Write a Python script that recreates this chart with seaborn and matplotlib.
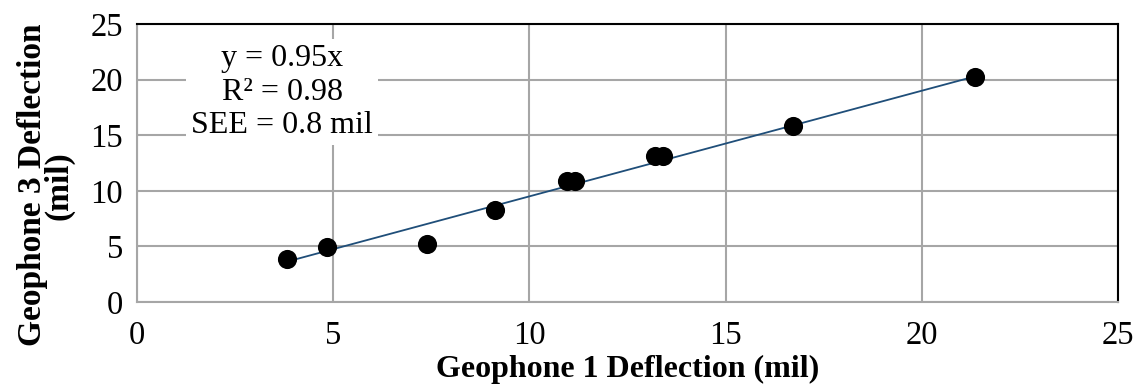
import matplotlib
matplotlib.use("Agg")
import matplotlib.pyplot as plt
import seaborn as sns
import numpy as np
import pandas as pd

geo1 = [3.82, 4.84, 7.39, 9.12, 10.96, 11.16, 13.2, 13.4, 16.72, 21.36]
geo3 = [3.87, 4.95, 5.22, 8.27, 10.88, 10.9, 13.1, 13.12, 15.8, 20.2]
slope = 0.95
x_ticks = [0, 5, 10, 15, 20, 25]
y_ticks = [0, 5, 10, 15, 20, 25]

sns.set_theme(style="white")
plt.rcParams['font.family'] = ['Liberation Serif', 'DejaVu Serif']
plt.rcParams['text.color'] = 'black'
plt.rcParams['axes.labelcolor'] = 'black'

df = pd.DataFrame({"g1": geo1, "g3": geo3})

fig = plt.figure(figsize=(11.38, 3.85), dpi=100)
ax = fig.add_axes([137/1138, 1 - 302/385, (1118-137)/1138, (302-24)/385])

grid_c = "#A6A6A6"
ax.set_xlim(0, 25)
ax.set_ylim(0, 25)
ax.set_xticks(x_ticks)
ax.set_yticks(y_ticks)
ax.grid(True, color=grid_c, linewidth=1.5)
ax.set_axisbelow(True)

xl = np.array([min(geo1), max(geo1)])
sns.lineplot(x=xl, y=slope * xl, ax=ax, color="#1F4E79", linewidth=1.3, zorder=3)
sns.scatterplot(data=df, x="g1", y="g3", ax=ax, color="black", s=190,
                edgecolor="black", linewidth=0, zorder=4)

for s in ["left", "bottom"]:
    ax.spines[s].set_color(grid_c)
    ax.spines[s].set_linewidth(1.5)
for s in ["top", "right"]:
    ax.spines[s].set_color("black")
    ax.spines[s].set_linewidth(1.5)

ax.tick_params(axis="both", which="both", direction="out", length=8, width=1.5,
               color=grid_c, labelsize=23.5, labelcolor="black", pad=2)
ax.tick_params(axis="x", pad=5)

ax.set_xlabel("Geophone 1 Deflection (mil)", fontsize=23, fontweight="bold", labelpad=3)
ax.set_ylabel("Geophone 3 Deflection\n(mil)", fontsize=24, fontweight="bold",
              linespacing=0.8)
ax.yaxis.set_label_coords(-0.064, 0.42)

ax.text(0.148, 0.755, "y = 0.95x\nR² = 0.98\nSEE = 0.8 mil", transform=ax.transAxes,
        ha="center", va="center", fontsize=23, linespacing=1.2,
        bbox=dict(facecolor="white", edgecolor="none", pad=4), zorder=5)

fig.savefig("out.png", dpi=100)
